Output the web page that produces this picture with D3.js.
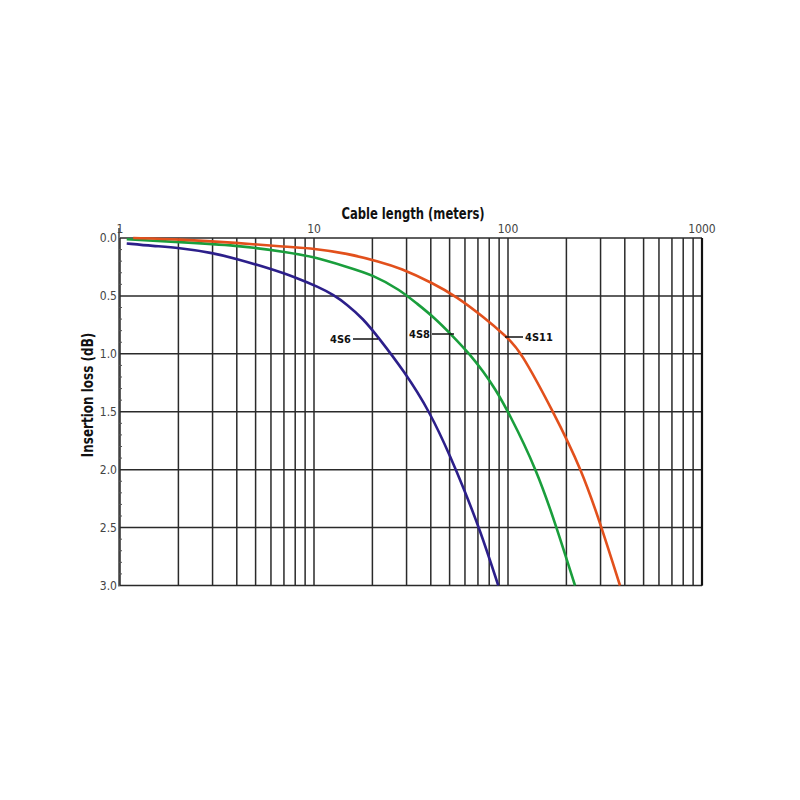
<!DOCTYPE html>
<html><head><meta charset="utf-8">
<script src="https://cdn.jsdelivr.net/npm/d3@7"></script>
<style>body{margin:0;background:#fff}svg{display:block}</style>
</head><body>
<svg id="c" width="800" height="800"></svg>
<script>
const xTicks = [1, 10, 100, 1000];
const yTicks = [0, 0.5, 1.0, 1.5, 2.0, 2.5, 3.0];
const s6Len = [1.083, 1.48, 2.0, 2.97, 4.0, 5.93, 7.82, 10.7, 12.6, 14.7, 17.9, 21.4, 29.1, 39.6, 51.4, 58.6, 71.8, 89.1];
const s6Loss = [0.047, 0.069, 0.084, 0.127, 0.179, 0.265, 0.332, 0.428, 0.491, 0.570, 0.696, 0.855, 1.148, 1.5, 1.917, 2.147, 2.52, 3.0];
const s8Len = [1.083, 2.0, 4.0, 7.23, 9.92, 14.7, 20.2, 27.8, 33.8, 41.2, 52.3, 63.7, 74.6, 85.6, 100.4, 140.6, 178.2, 221.5];
const s8Loss = [0.011, 0.035, 0.063, 0.121, 0.161, 0.248, 0.319, 0.449, 0.564, 0.679, 0.852, 1.006, 1.153, 1.299, 1.5, 2.0, 2.5, 3.0];
const s11Len = [1.17, 2.0, 4.0, 7.23, 9.92, 14.7, 21.9, 27.8, 41.2, 54.4, 74.6, 98.5, 115.3, 171.2, 239.9, 304, 377.8];
const s11Loss = [0.0, 0.011, 0.041, 0.078, 0.089, 0.132, 0.205, 0.259, 0.391, 0.507, 0.68, 0.853, 0.967, 1.5, 2.0, 2.5, 3.0];
const seriesNames = ["4S6", "4S8", "4S11"];
const seriesColors = ["#2c1f8a", "#1a9e3c", "#e2501c"];
const labelAt = [[378, 339], [454, 334], [505, 337]];

const svg = d3.select("#c");
const L = 120, R = 702, T = 238, B = 585.5;
const x = d3.scaleLog().domain([1, 1000]).range([L, R]);
const y = d3.scaleLinear().domain([0, 3]).range([T, B]);
const font = "'Liberation Sans Narrow','DejaVu Sans Condensed','Liberation Sans',sans-serif";

const g = svg.append("g");
const vlines = [];
for (let d = 1; d < 1000; d *= 10) for (let k = 1; k <= 9; k++) vlines.push(d * k);
vlines.push(1000);
g.selectAll("line.v").data(vlines).join("line")
  .attr("x1", d => x(d)).attr("x2", d => x(d)).attr("y1", T).attr("y2", B)
  .attr("stroke", "#2a2a2a").attr("stroke-width", 1.5);
g.selectAll("line.h").data(yTicks).join("line")
  .attr("x1", L).attr("x2", R).attr("y1", d => y(d)).attr("y2", d => y(d))
  .attr("stroke", "#2a2a2a").attr("stroke-width", 1.5);
g.append("line").attr("x1", R).attr("x2", R).attr("y1", T).attr("y2", B).attr("stroke", "#111").attr("stroke-width", 2.2);
g.append("line").attr("x1", L - 1).attr("x2", L - 1).attr("y1", T - 10).attr("y2", B + 1).attr("stroke", "#333").attr("stroke-width", 1.4);
const minor = d3.range(0, 31).map(i => i / 10).filter(v => Math.round(v * 10) % 5 !== 0);
g.selectAll("line.m").data(minor).join("line")
  .attr("x1", L - 1).attr("x2", L + 2).attr("y1", d => y(d)).attr("y2", d => y(d))
  .attr("stroke", "#555").attr("stroke-width", 1);

g.selectAll("text.yt").data(yTicks).join("text")
  .attr("x", L - 3).attr("y", d => y(d) + 4).attr("text-anchor", "end")
  .attr("font-family", font).attr("font-size", 12).attr("fill", "#444")
  .text(d => d.toFixed(1));
g.selectAll("text.xt").data(xTicks).join("text")
  .attr("x", d => x(d)).attr("y", 233).attr("text-anchor", "middle")
  .attr("font-family", font).attr("font-size", 12).attr("fill", "#444")
  .text(d => d);

svg.append("text").attr("transform", "translate(413,219) scale(0.86,1)").attr("text-anchor", "middle")
  .attr("font-family", font).attr("font-weight", "bold").attr("font-size", 15).attr("fill", "#111")
  .text("Cable length (meters)");
svg.append("text").attr("transform", "translate(93,395) rotate(-90) scale(0.89,1)").attr("text-anchor", "middle")
  .attr("font-family", font).attr("font-weight", "bold").attr("font-size", 15).attr("fill", "#111")
  .text("Insertion loss (dB)");

const data = [[s6Len, s6Loss], [s8Len, s8Loss], [s11Len, s11Loss]];
const line = d3.line().x(d => x(d[0])).y(d => y(d[1])).curve(d3.curveBasis);
data.forEach(([ls, vs], i) => {
  svg.append("path").attr("d", line(ls.map((l, j) => [l, vs[j]])))
    .attr("fill", "none").attr("stroke", seriesColors[i]).attr("stroke-width", 2.6);
});

const lab = svg.append("g").attr("font-family", font).attr("font-weight", "bold").attr("font-size", 11).attr("fill", "#111");
lab.append("line").attr("x1", 353).attr("x2", labelAt[0][0]).attr("y1", labelAt[0][1]).attr("y2", labelAt[0][1]).attr("stroke", "#111").attr("stroke-width", 1.5);
lab.append("text").attr("x", 351).attr("y", labelAt[0][1] + 4).attr("text-anchor", "end").text(seriesNames[0]);
lab.append("line").attr("x1", 432).attr("x2", labelAt[1][0]).attr("y1", labelAt[1][1]).attr("y2", labelAt[1][1]).attr("stroke", "#111").attr("stroke-width", 1.5);
lab.append("text").attr("x", 430).attr("y", labelAt[1][1] + 4).attr("text-anchor", "end").text(seriesNames[1]);
lab.append("line").attr("x1", labelAt[2][0]).attr("x2", 523).attr("y1", labelAt[2][1]).attr("y2", labelAt[2][1]).attr("stroke", "#111").attr("stroke-width", 1.5);
lab.append("text").attr("x", 525).attr("y", labelAt[2][1] + 4).attr("text-anchor", "start").text(seriesNames[2]);
</script>
</body></html>
